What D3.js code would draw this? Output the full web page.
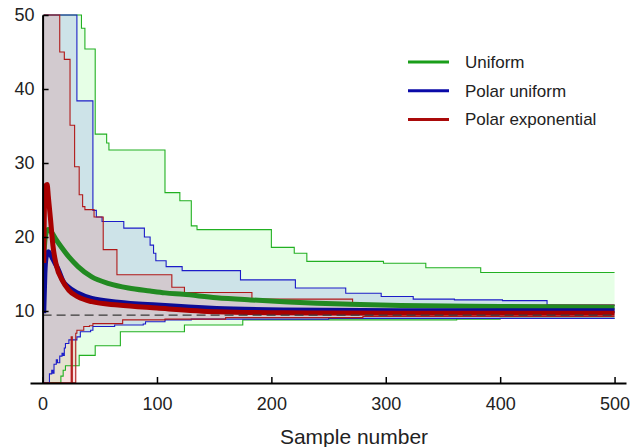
<!DOCTYPE html>
<html>
<head>
<meta charset="utf-8">
<script src="https://cdn.jsdelivr.net/npm/d3@7"></script>
<style>
  html, body { margin: 0; padding: 0; background: #ffffff; }
  svg { display: block; font-family: "Liberation Sans", Arial, sans-serif; }
</style>
</head>
<body>
<div id="chart"></div>
<script>
// step points [sample, value] (upper / lower envelope)
var uniformHigh = [[1, 50], [34, 48.2], [37, 45.4], [46, 33.9], [56, 32.7], [58, 31.75], [107, 26.0], [120, 24.9],
    [130, 21.5], [135, 21.0], [200, 18.6], [220, 17.8], [231, 16.7], [298, 16.45], [335, 15.85], [383, 15.2]];
var uniformLow = [[1, 0.3], [16, 1.2], [18, 2.0], [20, 2.6], [32, 4.0], [46, 5.3], [68, 7.2], [124, 8.1],
    [175, 8.8], [362, 8.9], [400, 9.0]];
var polarHigh = [[1, 50], [30, 38.4], [44, 23.6], [47, 22.7], [52, 22.1], [71, 21.2], [89, 20.0], [94, 18.9],
    [97, 17.8], [99, 16.8], [108, 16.0], [122, 15.45], [173, 14.2], [221, 13.1], [265, 12.4], [296, 11.95],
    [324, 11.6], [360, 11.5], [402, 11.4], [441, 10.8]];
var polarLow = [[1, 0.3], [6, 1.5], [8, 2.0], [9, 1.6], [10, 2.8], [12, 3.4], [13, 3.0], [15, 3.9], [17, 4.3],
    [18, 4.0], [19, 5.0], [20, 5.6], [23, 6.1], [30, 6.5], [33, 7.2], [42, 7.4], [44, 7.9], [63, 8.1],
    [88, 8.25], [90, 8.55], [107, 8.8], [130, 8.9], [250, 9.0]];
var expHigh = [[1, 50], [15, 45.0], [19, 44.0], [24, 35.1], [28, 29.5], [32, 25.7], [35, 24.1], [37, 23.7],
    [45, 22.7], [53, 18.3], [65, 14.9], [113, 13.2], [124, 12.5], [183, 11.6], [271, 11.1], [278, 10.8]];
var expLow = [[1, 0.3], [25, 6.5], [26, 0.3], [29, 7.0], [30, 7.4], [36, 7.9],
    [41, 8.0], [44, 8.3], [70, 8.8], [107, 8.9], [160, 9.1], [280, 9.25]];

// running means
var uniformMean = [[1, 17.1], [2, 19.5], [3, 20.5], [5, 21.0], [8, 20.6], [12, 19.6], [17, 18.5], [23, 17.3],
    [31, 16.0], [43, 14.6], [58, 13.7], [75, 13.1], [94, 12.7], [107, 12.45], [123, 12.25], [152, 11.8],
    [182, 11.5], [211, 11.26], [240, 11.05], [269, 10.92], [313, 10.75], [400, 10.6], [500, 10.5]];
var polarMean = [[1, 9.7], [2, 15.0], [3, 17.2], [5, 18.0], [7, 17.6], [9, 17.0], [14, 15.5], [18, 14.0],
    [22, 13.3], [31, 12.4], [43, 11.7], [66, 11.2], [100, 10.8], [152, 10.35], [211, 10.15], [313, 10.05],
    [400, 10.05], [500, 10.05]];
var expMean = [[1, 16.5], [2, 26.3], [3, 27.0], [4, 27.1], [5, 25.5], [7, 22.3], [9, 18.9], [12, 16.2],
    [17, 14.2], [23, 12.8], [31, 11.9], [43, 11.26], [66, 10.8], [100, 10.4], [152, 9.9], [211, 9.75],
    [313, 9.7], [500, 9.7]];

var seriesNames = ['Uniform', 'Polar uniform', 'Polar exponential'];
var xTicks = [0, 100, 200, 300, 400, 500];
var yTicks = [10, 20, 30, 40, 50];
var refValue = 9.45;
var lastSample = 500;

var _width = 631, _height = 447;

var series = [
    {name: seriesNames[0], high: uniformHigh, low: uniformLow, mean: uniformMean,
        fill: 'rgba(130,255,130,0.2)', thin: '#22b022', thick: '#228a22', key: '#1a9e1a'},
    {name: seriesNames[1], high: polarHigh, low: polarLow, mean: polarMean,
        fill: 'rgba(105,115,240,0.2)', thin: '#1c1cc8', thick: '#0c0c96', key: '#0a0aa8'},
    {name: seriesNames[2], high: expHigh, low: expLow, mean: expMean,
        fill: 'rgba(230,107,112,0.2)', thin: '#b01818', thick: '#a80000', key: '#aa0a0a'}
];

var x = d3.scaleLinear().domain([-11, 510]).range([30, 626]);
var y = d3.scaleLinear().domain([0.27, 50]).range([383, 15]);

var svg = d3.select('#chart').append('svg')
    .attr('width', _width)
    .attr('height', _height);

svg.append('defs').append('clipPath')
    .attr('id', 'plotClip')
    .append('rect')
    .attr('x', x(0))
    .attr('y', y(50) - 2)
    .attr('width', x(lastSample) - x(0) + 4)
    .attr('height', y(0.27) - y(50) + 2);

var plot = svg.append('g').attr('clip-path', 'url(#plotClip)');

// value of a step list at sample s
function stepAt(pts, s) {
    var v = pts[0][1];
    for (var i = 0; i < pts.length; i++) {
        if (pts[i][0] <= s) v = pts[i][1];
    }
    return v;
}

var samples = d3.range(1, lastSample + 1);

var band = d3.area()
    .x(function(d) { return x(d.s); })
    .y0(function(d) { return y(d.lo); })
    .y1(function(d) { return y(d.hi); })
    .curve(d3.curveStepAfter);

var stepLine = d3.line()
    .x(function(d) { return x(d[0]); })
    .y(function(d) { return y(d[1]); })
    .curve(d3.curveStepAfter);

var meanLine = d3.line()
    .x(function(d) { return x(d[0]); })
    .y(function(d) { return y(d[1]); })
    .curve(d3.curveMonotoneX);

// bands
series.forEach(function(sr) {
    var data = samples.map(function(s) {
        return {s: s, hi: stepAt(sr.high, s), lo: stepAt(sr.low, s)};
    });
    plot.append('path')
        .attr('d', band(data))
        .style('fill', sr.fill)
        .style('stroke', 'none');
});

// envelope edges
series.forEach(function(sr) {
    [sr.high, sr.low].forEach(function(pts) {
        var full = pts.concat([[lastSample, pts[pts.length - 1][1]]]);
        plot.append('path')
            .attr('d', stepLine(full))
            .style('fill', 'none')
            .style('stroke', sr.thin)
            .style('stroke-width', 1.1);
    });
});

// means
series.forEach(function(sr) {
    plot.append('path')
        .attr('d', meanLine(sr.mean))
        .style('fill', 'none')
        .style('stroke', sr.thick)
        .style('stroke-width', 5)
        .style('stroke-linejoin', 'round');
});

// reference value
plot.append('line')
    .attr('x1', x(0))
    .attr('x2', x(lastSample))
    .attr('y1', y(refValue))
    .attr('y2', y(refValue))
    .style('stroke', '#3a3a3a')
    .style('stroke-width', 1.3)
    .style('stroke-dasharray', '9,5');

// axes
var xAxisG = svg.append('g').attr('transform', 'translate(0,' + y(0.27) + ')');
xAxisG.call(d3.axisBottom(x).tickValues(d3.range(0, 501, 20)).tickFormat('').tickSize(-4).tickSizeOuter(0));
xAxisG.call(d3.axisBottom(x).tickValues(xTicks).tickSize(-6).tickSizeOuter(0).tickPadding(14));

var yAxisG = svg.append('g').attr('transform', 'translate(' + x(0) + ',0)');
yAxisG.call(d3.axisLeft(y).tickValues(d3.range(2, 51, 2)).tickFormat('').tickSize(-4).tickSizeOuter(0));
yAxisG.call(d3.axisLeft(y).tickValues(yTicks).tickSize(-6).tickSizeOuter(0).tickPadding(8));

svg.selectAll('.domain').style('stroke', '#000').style('stroke-width', 2);
svg.selectAll('.tick line').style('stroke', '#000').style('stroke-width', 1.5);
svg.selectAll('.tick text')
    .style('font-family', '"Liberation Sans", Arial, sans-serif')
    .style('font-size', '18px')
    .style('fill', '#222');

svg.append('text')
    .attr('x', 354)
    .attr('y', 444)
    .attr('text-anchor', 'middle')
    .style('font-size', '21px')
    .style('fill', '#222')
    .text('Sample number');

// legend
var legend = svg.append('g');
series.forEach(function(sr, i) {
    var ly = 62 + i * 28.7;
    legend.append('line')
        .attr('x1', 408).attr('x2', 449)
        .attr('y1', ly).attr('y2', ly)
        .style('stroke', sr.key)
        .style('stroke-width', 3);
    legend.append('text')
        .attr('x', 465)
        .attr('y', ly + 6)
        .style('font-size', '17px')
        .style('fill', '#222')
        .text(sr.name);
});
</script>
</body>
</html>
